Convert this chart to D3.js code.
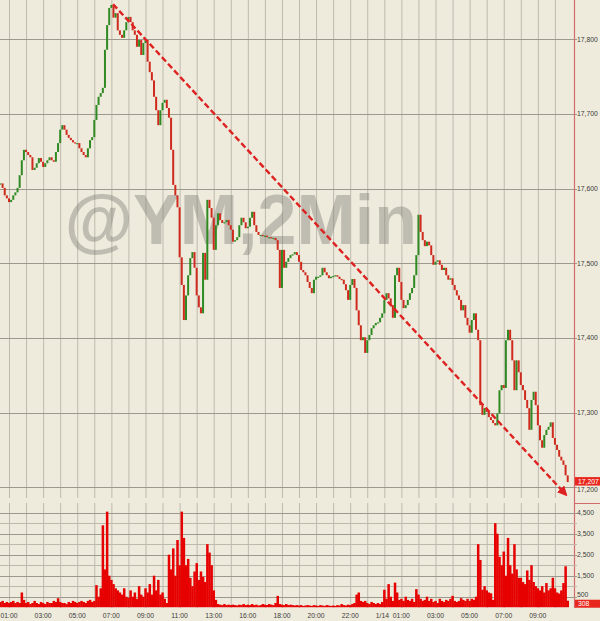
<!DOCTYPE html>
<html><head><meta charset="utf-8">
<script src="https://cdn.jsdelivr.net/npm/d3@7"></script>
<style>
html,body{margin:0;padding:0;background:#efebdc;}
svg{display:block;font-family:"Liberation Sans",Arial,sans-serif;}
</style></head><body>
<svg id="chart" width="600" height="621"></svg>
<script>
// ---------- data ----------
const hourLabels = ["01:00","03:00","05:00","07:00","09:00","11:00","13:00","16:00","18:00","20:00","22:00","1/14  01:00","03:00","05:00","07:00","09:00"];
const hourLabelSlots = [0,2,4,6,8,10,12,14,16,18,20,22.5,25,27,29,31];
const gridSlots = d3.range(0, 33);
const priceTicks = [17200,17300,17400,17500,17600,17700,17800];
const volumeTicks = [500,1500,2500,3500,4500];
const volumeGrid = [500,1000,1500,2000,2500,3000,3500,4000,4500];
const startSlot = -0.5, slotStep = 0.125;
const closes = [
17607,17601,17591,17587,
17582,17585,17591,17595,17601,17618,17638,17652,
17649,17645,17642,17625,17628,17634,17641,17636,
17629,17634,17638,17642,17638,17636,17649,17661,
17679,17685,17679,17672,17668,17665,17662,17661,
17661,17654,17649,17645,17642,17654,17665,17669,
17692,17712,17723,17728,17735,17786,17819,17842,
17846,17829,17835,17812,17806,17802,17812,17823,
17830,17823,17812,17806,17790,17799,17779,17795,
17799,17770,17756,17745,17723,17705,17685,17705,
17715,17719,17708,17695,17652,17605,17591,17575,
17508,17471,17424,17457,17484,17507,17515,17494,
17457,17441,17433,17514,17478,17585,17574,17561,
17518,17551,17567,17558,17554,17555,17558,17551,
17545,17529,17531,17535,17551,17561,17555,17547,
17549,17561,17569,17551,17542,17538,17538,17537,
17537,17535,17535,17534,17534,17531,17518,17467,
17518,17494,17502,17507,17511,17512,17515,17511,
17502,17491,17488,17484,17475,17467,17460,17478,
17482,17482,17484,17494,17488,17484,17480,17482,
17483,17484,17482,17479,17478,17472,17464,17451,
17471,17479,17467,17437,17417,17397,17401,17380,
17397,17404,17413,17417,17420,17421,17427,17433,
17451,17460,17453,17444,17427,17484,17494,17475,
17451,17440,17444,17451,17460,17467,17484,17511,
17565,17542,17531,17523,17529,17524,17511,17498,
17502,17504,17498,17491,17494,17484,17478,17480,
17471,17464,17457,17451,17437,17444,17427,17417,
17407,17424,17433,17411,17397,17310,17297,17306,
17301,17294,17290,17286,17283,17299,17330,17337,
17333,17397,17411,17397,17370,17330,17370,17354,
17337,17330,17317,17306,17277,17317,17328,17310,
17283,17263,17253,17270,17277,17281,17287,17266,
17257,17250,17241,17236,17230,17216,17207
];
const volumes = [
250,300,200,250,
200,250,300,200,250,200,700,350,
200,250,150,200,300,200,150,250,
200,150,250,200,200,300,250,430,
250,200,200,150,250,200,300,250,
200,250,300,250,200,300,350,250,
300,1050,500,900,3900,1800,4550,1500,
1300,1100,900,800,700,600,900,500,
450,800,500,700,400,1000,600,500,
900,700,1100,600,1500,800,1300,600,
700,400,200,2500,1800,2800,1500,3200,
2000,4550,3300,2000,2300,1400,1000,1700,
2100,1300,1700,1450,1200,3000,2600,2000,
800,350,150,120,100,150,100,120,
100,120,100,80,120,100,150,100,
120,100,150,100,120,80,100,150,
120,100,150,120,100,200,540,150,
120,100,150,100,120,100,80,100,
80,100,60,80,100,80,60,100,
80,60,100,80,60,100,80,60,
80,60,100,80,150,100,80,120,
100,150,200,600,700,300,250,300,
200,150,250,200,150,200,150,250,
830,400,1100,500,300,1170,700,350,
400,300,500,350,300,400,250,860,
600,400,300,350,500,300,400,250,
300,200,400,300,250,350,300,400,
540,300,250,300,430,350,300,400,
300,400,350,500,3000,2250,830,1000,
800,700,660,350,4000,3500,2400,2000,
2650,1500,3300,2000,1600,3000,1800,1400,
1400,1200,1100,1750,1300,2000,1200,1000,
900,800,1000,700,1150,800,900,1400,
900,700,650,800,1150,1950,308
];
const lastPrice = 17207, lastVolume = 308;
const arrowSlots = [6.1, 32.65];
const arrowPrices = [17847, 17190];
const watermark = "@YM,2Min";

// ---------- scales ----------
const svg = d3.select("#chart");
const x = d3.scaleLinear().domain([0, 32]).range([9, 9 + 32 * 17.06]);
const yP = d3.scaleLinear().domain([17200, 17800]).range([487.3, 39.3]);
const yV = d3.scaleLinear().domain([0, 4500]).range([607.2, 512.7]);
const slotOf = i => startSlot + i * slotStep;
const fmt = d3.format(",");

svg.append("rect").attr("width",600).attr("height",621).attr("fill","#efebdc");

const defs = svg.append("defs");
defs.append("clipPath").attr("id","pclip").append("rect").attr("x",0).attr("y",0).attr("width",574).attr("height",498);
defs.append("clipPath").attr("id","vclip").append("rect").attr("x",0).attr("y",503).attr("width",574).attr("height",105);
defs.append("marker").attr("id","ah").attr("viewBox","0 0 10 10").attr("refX",8).attr("refY",5)
  .attr("markerWidth",4.2).attr("markerHeight",4.2).attr("orient","auto")
  .append("path").attr("d","M0,0L10,5L0,10z").attr("fill","#dd2222");

// ---------- price panel ----------
const gp = svg.append("g");
gp.selectAll("line.vg").data(gridSlots).join("line").attr("class","vg")
  .attr("x1",d=>x(d)+0.5).attr("x2",d=>x(d)+0.5).attr("y1",0).attr("y2",498)
  .attr("stroke","#bdb9ad").attr("stroke-width",1);
gp.selectAll("line.hg").data(priceTicks).join("line").attr("class","hg")
  .attr("x1",0).attr("x2",577).attr("y1",d=>Math.round(yP(d))+0.5).attr("y2",d=>Math.round(yP(d))+0.5)
  .attr("stroke","#9c998f").attr("stroke-width",1);

// watermark
gp.append("text").attr("x",x(3.27)).attr("y",yP(17526))
  .attr("font-size",70).attr("font-weight","bold").attr("fill","#7a7874").attr("opacity",0.4)
  .attr("text-anchor","start")
  .text(watermark);

// candles (open = previous close)
const cg = gp.append("g").attr("clip-path","url(#pclip)");
cg.selectAll("rect").data(closes).join("rect")
  .attr("x",(d,i)=>x(slotOf(i))-1)
  .attr("width",2)
  .attr("y",(d,i)=>{const o=i?closes[i-1]:d; return yP(Math.max(o,d));})
  .attr("height",(d,i)=>{const o=i?closes[i-1]:d; return Math.max(1.2, Math.abs(yP(o)-yP(d)));})
  .attr("fill",(d,i)=>{const o=i?closes[i-1]:d; return d>=o ? "#2f8a23" : "#cf2a1e";});

// arrow
gp.append("line")
  .attr("x1",x(arrowSlots[0])).attr("y1",yP(arrowPrices[0]))
  .attr("x2",x(arrowSlots[1])).attr("y2",yP(arrowPrices[1]))
  .attr("stroke","#dd2222").attr("stroke-width",2.4).attr("stroke-dasharray","6,3")
  .attr("marker-end","url(#ah)");

// price axis
svg.append("line").attr("x1",574.5).attr("x2",574.5).attr("y1",0).attr("y2",608)
  .attr("stroke","#d26a6a").attr("stroke-width",1.2);
svg.selectAll("text.pl").data(priceTicks).join("text").attr("class","pl")
  .attr("x",577).attr("y",d=>yP(d)+(d===17200?5:2.4)).attr("font-size",6.8).attr("fill","#3a3a3a")
  .text(d=>fmt(d));
svg.append("rect").attr("x",575).attr("y",yP(lastPrice)-5).attr("width",25).attr("height",8.5).attr("fill","#e8281e");
svg.append("text").attr("x",578).attr("y",yP(lastPrice)+1.6).attr("font-size",6.8).attr("fill","#ffffff").text(fmt(lastPrice));

// ---------- volume panel ----------
const gv = svg.append("g");
gv.selectAll("line.vg").data(gridSlots).join("line").attr("class","vg")
  .attr("x1",d=>x(d)+0.5).attr("x2",d=>x(d)+0.5).attr("y1",503).attr("y2",608)
  .attr("stroke","#bdb9ad");
gv.selectAll("line.hg").data(volumeGrid).join("line").attr("class","hg")
  .attr("x1",0).attr("x2",577).attr("y1",d=>Math.round(yV(d))+0.5).attr("y2",d=>Math.round(yV(d))+0.5)
  .attr("stroke",d=>volumeTicks.includes(d)?"#9c998f":"#bdb9ad");
gv.append("g").attr("clip-path","url(#vclip)").selectAll("rect").data(volumes).join("rect")
  .attr("x",(d,i)=>x(slotOf(i))-1.2).attr("width",2.5)
  .attr("y",d=>yV(d)).attr("height",d=>yV(0)-yV(d)).attr("fill","#e60000");
svg.append("line").attr("x1",574).attr("x2",600).attr("y1",503.5).attr("y2",503.5).attr("stroke","#d26a6a");
svg.selectAll("text.vl").data(volumeTicks).join("text").attr("class","vl")
  .attr("x",577).attr("y",d=>yV(d)+(d===500?0.5:2.4)).attr("font-size",6.8).attr("fill","#3a3a3a")
  .text(d=>fmt(d));
svg.append("rect").attr("x",575).attr("y",yV(lastVolume)-1).attr("width",25).attr("height",8).attr("fill","#e8281e");
svg.append("text").attr("x",578).attr("y",yV(lastVolume)+5.4).attr("font-size",6.8).attr("fill","#ffffff").text(fmt(lastVolume));

// time labels
svg.selectAll("text.tl").data(hourLabels).join("text").attr("class","tl")
  .attr("x",(d,i)=>x(hourLabelSlots[i])).attr("y",618).attr("text-anchor","middle")
  .attr("font-size",6.8).attr("fill","#3a3a3a").style("white-space","pre")
  .text(d=>d);
</script>
</body></html>
